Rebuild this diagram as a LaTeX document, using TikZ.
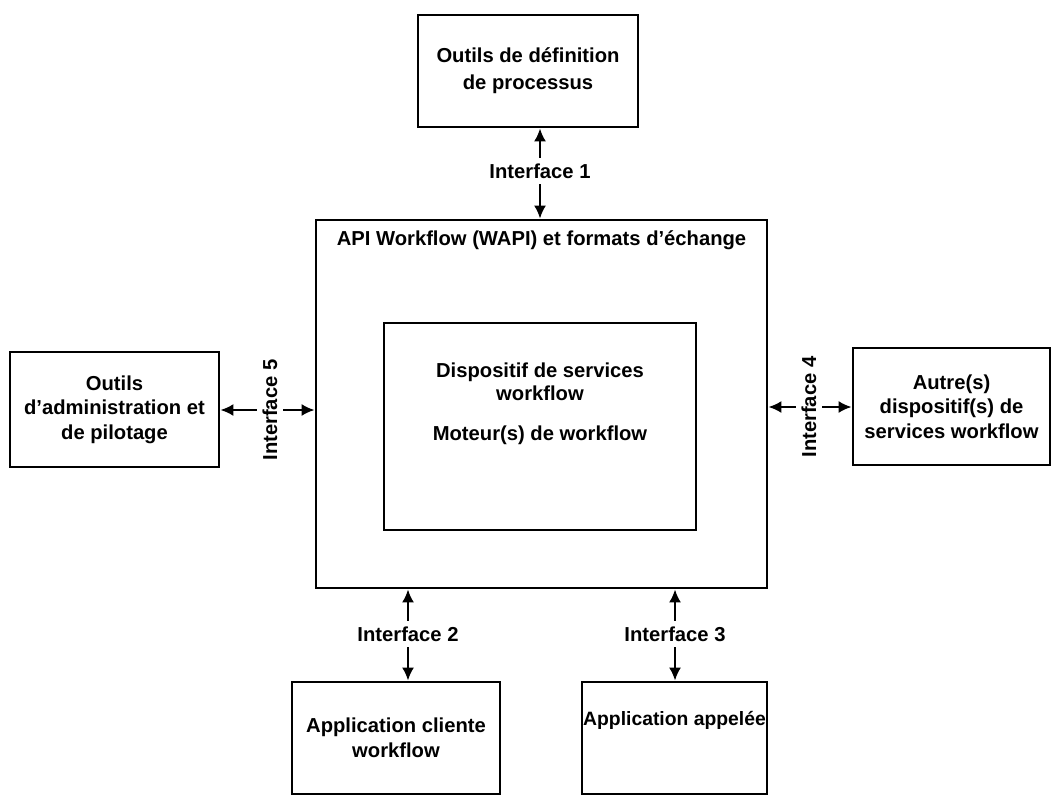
\documentclass[tikz,border=0pt]{standalone}
\usepackage{fontspec}
\setmainfont{Liberation Sans}
\usetikzlibrary{arrows.meta,positioning}

\tikzset{
  box/.style={draw, line width=1.6pt, align=center, inner sep=2pt,
    font=\bfseries\fontsize{11.5}{14}\selectfont},
  iface/.style={font=\bfseries\fontsize{11.5}{14}\selectfont, inner sep=3pt},
  link/.style={-{Latex[length=2.6mm,width=2.4mm]}, line width=1.3pt}
}

\begin{document}
\begin{tikzpicture}[x=0.02cm, y=-0.02cm]
\useasboundingbox (0,0) rectangle (1053,797);

\node[box, minimum width=4.4cm, minimum height=2.24cm,
  font=\bfseries\fontsize{11.5}{15.3}\selectfont] (procdef) at (528,71)
  {Outils de définition\\de processus};
\node[box, minimum width=9.02cm, minimum height=7.36cm] (main) at (541.5,404) {};
\node[iface, below=0.12cm of main.north] (title) {API Workflow (WAPI) et formats d'échange};
\node[box, minimum width=6.24cm, minimum height=4.14cm] (engine) at (540,426.5) {};
\node[iface, align=center, font=\bfseries\fontsize{11.5}{13}\selectfont] (enginetxt) at (540,404)
  {Dispositif de services\\workflow\\[3.5mm]Moteur(s) de workflow};
\node[box, minimum width=4.18cm, minimum height=2.3cm] (admin) at (114.5,409.5)
  {Outils\\d'administration et\\de pilotage};
\node[box, minimum width=3.94cm, minimum height=2.34cm] (other) at (951.5,406.5)
  {Autre(s)\\dispositif(s) de\\services workflow};
\node[box, minimum width=4.16cm, minimum height=2.24cm] (client) at (396,738)
  {Application cliente\\workflow};
\node[box, minimum width=3.7cm, minimum height=2.24cm] (called) at (674.5,738) {};
\node[iface, font=\bfseries\fontsize{11}{13}\selectfont] (calledtxt) at (674.5,720) {Application appelée};

\node[iface] (if1) at (540,171) {Interface 1};
\node[iface] (if2) at (408,634) {Interface 2};
\node[iface] (if3) at (675,634) {Interface 3};
\node[iface, rotate=90] (if4) at (809,407) {Interface 4};
\node[iface, rotate=90] (if5) at (270,410) {Interface 5};

\draw[link] (if1) -- (if1 |- procdef.south);
\draw[link] (if1) -- (if1 |- main.north);
\draw[link] (if2) -- (if2 |- main.south);
\draw[link] (if2) -- (if2 |- client.north);
\draw[link] (if3) -- (if3 |- main.south);
\draw[link] (if3) -- (if3 |- called.north);
\draw[link] (if4) -- (if4 -| main.east);
\draw[link] (if4) -- (if4 -| other.west);
\draw[link] (if5) -- (if5 -| admin.east);
\draw[link] (if5) -- (if5 -| main.west);
\end{tikzpicture}
\end{document}
